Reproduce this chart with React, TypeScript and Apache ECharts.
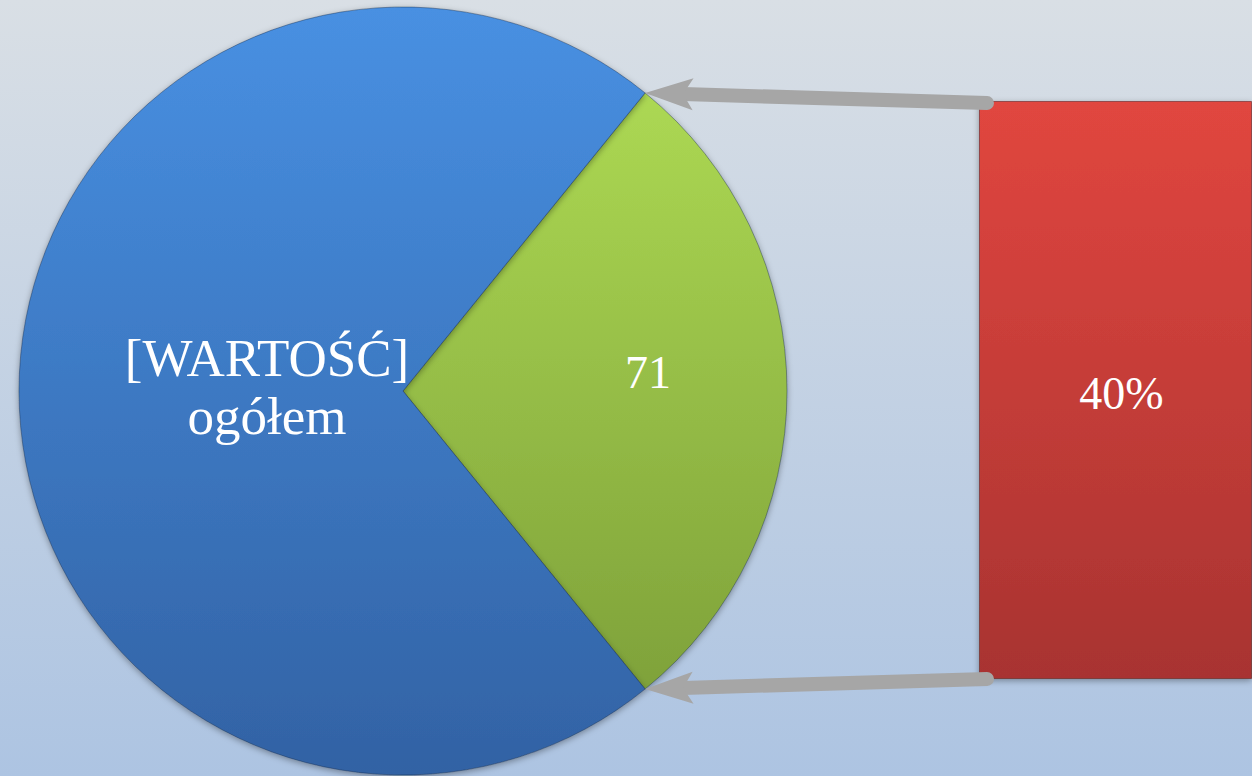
import React, { useEffect, useRef } from "react";
import * as echarts from "echarts";

// ---- data ----
const pieNames = ["część", "ogółem"];
const pieValues = [71, 180];
const pieLabels = ["71", "[WARTOŚĆ]\nogółem"];
const barCategories = ["część"];
const barValues = [40];
const barLabels = ["40%"];

// ---- layout ----
const W = 1252;
const H = 776;
const CX = 403;
const CY = 391;
const R = 384;
const GRID_LEFT = 979;
const GRID_TOP = 101;
const GRID_W = 284;
const GRID_H = 578;

export default function App() {
  const ref = useRef<HTMLDivElement>(null);

  useEffect(() => {
    if (!ref.current) return;
    const chart = echarts.init(ref.current, undefined, { renderer: "svg" });

    const total = pieValues.reduce((a, b) => a + b, 0);
    const half = (360 * pieValues[0]) / total / 2; // degrees
    const startAngle = half;
    const rad = (half * Math.PI) / 180;

    const tipTop = [CX + R * Math.cos(rad), CY - R * Math.sin(rad)];
    const tipBot = [CX + R * Math.cos(rad), CY + R * Math.sin(rad)];
    const tailTop = [GRID_LEFT + 8, GRID_TOP + 2];
    const tailBot = [GRID_LEFT + 8, GRID_TOP + GRID_H];

    const gray = "#a6a6a6";
    const arrow = (tail: number[], tip: number[]) => {
      const dx = tip[0] - tail[0];
      const dy = tip[1] - tail[1];
      const len = Math.hypot(dx, dy);
      const ux = dx / len;
      const uy = dy / len;
      const nx = -uy;
      const ny = ux;
      const L = 48;
      const hw = 16;
      const notch = 38;
      const bx = tip[0] - ux * L;
      const by = tip[1] - uy * L;
      const mx = tip[0] - ux * notch;
      const my = tip[1] - uy * notch;
      return [
        {
          type: "line",
          z: 100,
          shape: { x1: tail[0], y1: tail[1], x2: mx, y2: my },
          style: { stroke: gray, lineWidth: 14, lineCap: "round" },
        },
        {
          type: "polygon",
          z: 100,
          shape: {
            points: [
              [tip[0], tip[1]],
              [bx + nx * hw, by + ny * hw],
              [mx, my],
              [bx - nx * hw, by - ny * hw],
            ],
          },
          style: { fill: gray },
        },
      ];
    };

    const pieColors = [
      new echarts.graphic.LinearGradient(0, 0, 0, 1, [
        { offset: 0, color: "#acd853" },
        { offset: 1, color: "#7fa23a" },
      ]),
      new echarts.graphic.LinearGradient(0, 0, 0, 1, [
        { offset: 0, color: "#4890e2" },
        { offset: 1, color: "#3262a4" },
      ]),
    ];
    const labelShift = [
      [50, -19],
      [59, -4],
    ];
    const labelSizes = [46, 53];
    const labelLineHeights = [56, 58];

    const fontFamily = "'Liberation Serif', 'Times New Roman', serif";

    chart.setOption({
      animation: false,
      backgroundColor: new echarts.graphic.LinearGradient(0, 0, 0, 1, [
        { offset: 0, color: "#d9dfe5" },
        { offset: 1, color: "#adc4e2" },
      ]),
      grid: { left: GRID_LEFT, top: GRID_TOP, width: GRID_W, height: GRID_H },
      xAxis: { type: "category", data: barCategories, show: false },
      yAxis: { type: "value", min: 0, max: Math.max(...barValues), show: false },
      series: [
        {
          type: "pie",
          silent: true,
          center: [CX, CY],
          radius: R,
          startAngle,
          clockwise: true,
          avoidLabelOverlap: false,
          data: pieValues.map((v, i) => ({
            name: pieNames[i],
            value: v,
            itemStyle: {
              color: pieColors[i],
              borderColor: "rgba(20,40,70,0.4)",
              borderWidth: 1,
              shadowBlur: 6,
              shadowColor: "rgba(0,0,0,0.35)",
              shadowOffsetY: 2,
            },
            label: {
              show: true,
              position: "inside",
              formatter: pieLabels[i],
              color: "#ffffff",
              fontFamily,
              fontSize: labelSizes[i],
              lineHeight: labelLineHeights[i],
            },
          })),
          labelLine: { show: false },
          labelLayout: (p: any) => ({
            dx: labelShift[p.dataIndex][0],
            dy: labelShift[p.dataIndex][1],
          }),
        },
        {
          type: "bar",
          silent: true,
          barWidth: "100%",
          barCategoryGap: 0,
          data: barValues.map((v, i) => ({
            value: v,
            label: {
              show: true,
              position: "inside",
              offset: [6, 3],
              formatter: barLabels[i],
              color: "#ffffff",
              fontFamily,
              fontSize: 46,
            },
          })),
          itemStyle: {
            color: new echarts.graphic.LinearGradient(0, 0, 0, 1, [
              { offset: 0, color: "#e1463f" },
              { offset: 1, color: "#a83331" },
            ]),
            borderColor: "rgba(90,20,20,0.5)",
            borderWidth: 1,
            shadowBlur: 6,
            shadowColor: "rgba(0,0,0,0.35)",
            shadowOffsetY: 2,
          },
        },
      ],
      graphic: [...arrow(tailTop, tipTop), ...arrow(tailBot, tipBot)],
    });

    return () => chart.dispose();
  }, []);

  return (
    <div
      ref={ref}
      style={{ position: "absolute", left: 0, top: 0, width: W, height: H }}
    />
  );
}
